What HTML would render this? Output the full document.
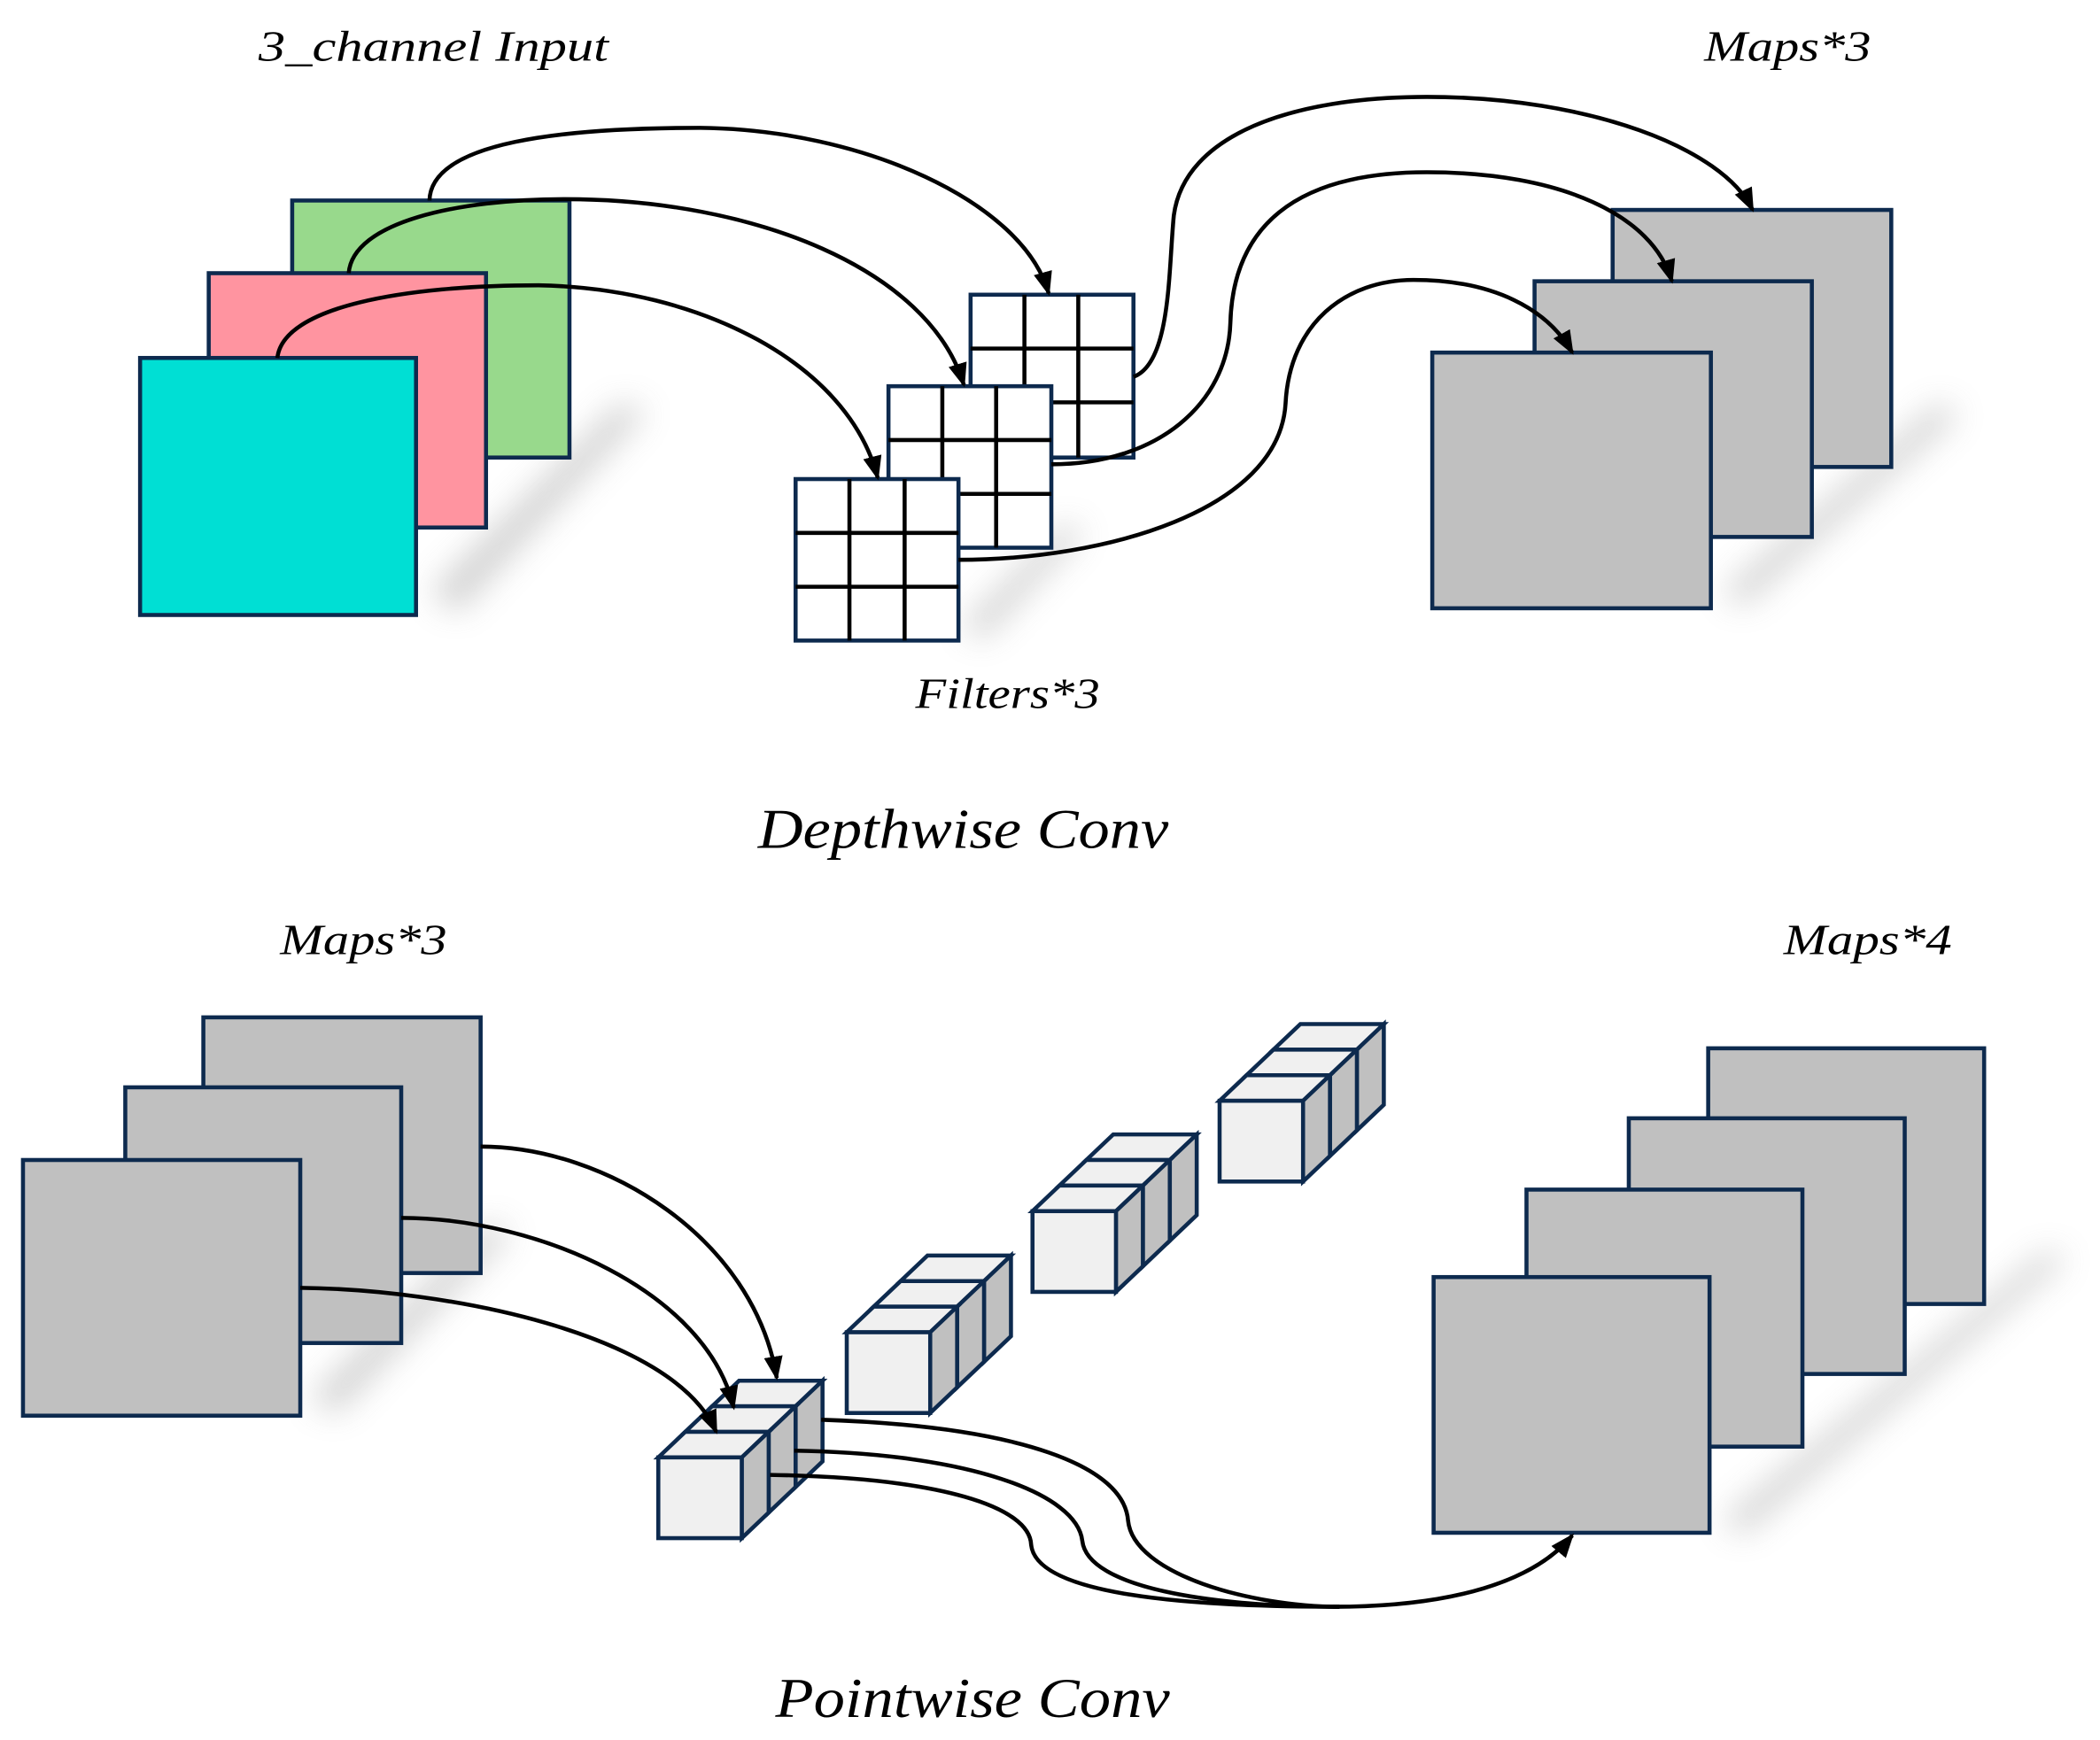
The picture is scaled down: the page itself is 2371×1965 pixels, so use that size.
<!DOCTYPE html>
<html><head><meta charset="utf-8"><style>
html,body{margin:0;padding:0;background:#fff;}
svg{display:block;}
text{font-family:"Liberation Serif",serif;font-style:italic;fill:#000;}
</style></head><body>
<svg width="2371" height="1965" viewBox="0 0 1560 1293" xmlns="http://www.w3.org/2000/svg">
<defs>
<marker id="ah" markerWidth="18" markerHeight="14" refX="16" refY="7" orient="auto" markerUnits="userSpaceOnUse">
<path d="M0,0 L18,7 L0,14 Z" fill="#000"/>
</marker>
<filter id="bl" x="-50%" y="-50%" width="200%" height="200%"><feGaussianBlur stdDeviation="12"/></filter>
<g id="cg" stroke="#0d2a4e" stroke-width="3">
<polygon points="40,-38 102,-38 122,-57 60,-57" fill="#f0f0f0"/>
<polygon points="102,-38 122,-57 122,3 102,22" fill="#c0c0c0"/>
<polygon points="20,-19 82,-19 102,-38 40,-38" fill="#f0f0f0"/>
<polygon points="82,-19 102,-38 102,22 82,41" fill="#c0c0c0"/>
<polygon points="0,0 62,0 82,-19 20,-19" fill="#f0f0f0"/>
<polygon points="62,0 82,-19 82,41 62,60" fill="#c0c0c0"/>
<rect x="0" y="0" width="62" height="60" fill="#f0f0f0"/>
</g>
</defs>

<!-- shadows -->
<g filter="url(#bl)" fill="#999" opacity="0.45">
<polygon points="320,440 460,300 480,305 340,455"/>
<polygon points="715,465 790,390 805,395 730,475"/>
<polygon points="1280,440 1440,300 1455,308 1295,450"/>
<polygon points="230,1040 360,910 380,915 250,1050"/>
<polygon points="1280,1130 1520,930 1535,935 1295,1140"/>
</g>

<!-- top input -->
<g stroke="#0d2a4e" stroke-width="3">
<rect x="217" y="149" width="206" height="191" fill="#98d98c"/>
<rect x="155" y="203" width="206" height="189" fill="#ff94a0"/>
<rect x="104" y="266" width="205" height="191" fill="#00dfd4"/>
</g>

<!-- filters -->
<g>
<rect x="721" y="219" width="121" height="121" fill="#fff" stroke="#0d2a4e" stroke-width="3"/>
<path d="M761,219V340M801,219V340M721,259H842M721,299H842" stroke="#000" stroke-width="3"/>
<rect x="660" y="287" width="121" height="120" fill="#fff" stroke="#0d2a4e" stroke-width="3"/>
<path d="M700,287V407M740,287V407M660,327H781M660,367H781" stroke="#000" stroke-width="3"/>
<rect x="591" y="356" width="121" height="120" fill="#fff" stroke="#0d2a4e" stroke-width="3"/>
<path d="M631,356V476M672,356V476M591,396H712M591,436H712" stroke="#000" stroke-width="3"/>
</g>

<!-- top output maps -->
<g stroke="#0d2a4e" stroke-width="3" fill="#c0c0c0">
<rect x="1198" y="156" width="207" height="191"/>
<rect x="1140" y="209" width="206" height="190"/>
<rect x="1064" y="262" width="207" height="190"/>
</g>

<!-- top arrows -->
<g fill="none" stroke="#000" stroke-width="3" marker-end="url(#ah)">
<path d="M319,149 C320,105 420,95 520,95 C640,96 760,150 779,218"/>
<path d="M259,203 C262,165 340,148 420,148 C560,148 690,200 716,286"/>
<path d="M206,266 C210,228 300,212 400,212 C520,214 630,270 652,355"/>
<path d="M842,280 C870,270 868,200 872,160 C880,100 960,72 1060,72 C1180,72 1280,110 1302,156"/>
<path d="M781,345 C860,345 912,300 914,240 C916,170 960,128 1060,128 C1160,128 1228,160 1242,209"/>
<path d="M712,416 C820,416 950,380 955,300 C958,240 1000,208 1050,208 C1110,208 1150,230 1168,262"/>
</g>

<!-- bottom left maps -->
<g stroke="#0d2a4e" stroke-width="3" fill="#c0c0c0">
<rect x="151" y="756" width="206" height="190"/>
<rect x="93" y="808" width="205" height="190"/>
<rect x="17" y="862" width="206" height="190"/>
</g>

<!-- cubes -->
<use href="#cg" transform="translate(489,1083)"/>
<use href="#cg" transform="translate(629,990)"/>
<use href="#cg" transform="translate(767,900)"/>
<use href="#cg" transform="translate(906,818)"/>

<!-- bottom right maps -->
<g stroke="#0d2a4e" stroke-width="3" fill="#c0c0c0">
<rect x="1269" y="779" width="205" height="190"/>
<rect x="1210" y="831" width="205" height="190"/>
<rect x="1134" y="884" width="205" height="191"/>
<rect x="1065" y="949" width="205" height="190"/>
</g>

<!-- bottom arrows -->
<g fill="none" stroke="#000" stroke-width="3">
<path d="M357,852 C450,852 560,920 577,1024" marker-end="url(#ah)"/>
<path d="M298,905 C400,905 525,960 545,1046" marker-end="url(#ah)"/>
<path d="M223,957 C330,958 500,990 532,1064" marker-end="url(#ah)"/>
<path d="M610,1055 C760,1060 835,1090 838,1130 C842,1170 930,1194 995,1194"/>
<path d="M590,1078 C720,1080 800,1110 804,1145 C808,1180 900,1194 995,1194"/>
<path d="M572,1096 C700,1098 765,1120 766,1148 C770,1185 880,1194 995,1194"/>
<path d="M990,1194 C1080,1194 1140,1175 1168,1141" marker-end="url(#ah)"/>
</g>

<!-- labels -->
<text x="192" y="45" font-size="32" textLength="260" lengthAdjust="spacingAndGlyphs">3_channel Input</text>
<text x="1266" y="45" font-size="32" textLength="124" lengthAdjust="spacingAndGlyphs">Maps*3</text>
<text x="680" y="526" font-size="32" textLength="137" lengthAdjust="spacingAndGlyphs">Filters*3</text>
<text x="563" y="630" font-size="42" textLength="305" lengthAdjust="spacingAndGlyphs">Depthwise Conv</text>
<text x="208" y="709" font-size="32" textLength="124" lengthAdjust="spacingAndGlyphs">Maps*3</text>
<text x="1325" y="709" font-size="32" textLength="125" lengthAdjust="spacingAndGlyphs">Maps*4</text>
<text x="576" y="1276" font-size="42" textLength="293" lengthAdjust="spacingAndGlyphs">Pointwise Conv</text>
</svg>
</body></html>
